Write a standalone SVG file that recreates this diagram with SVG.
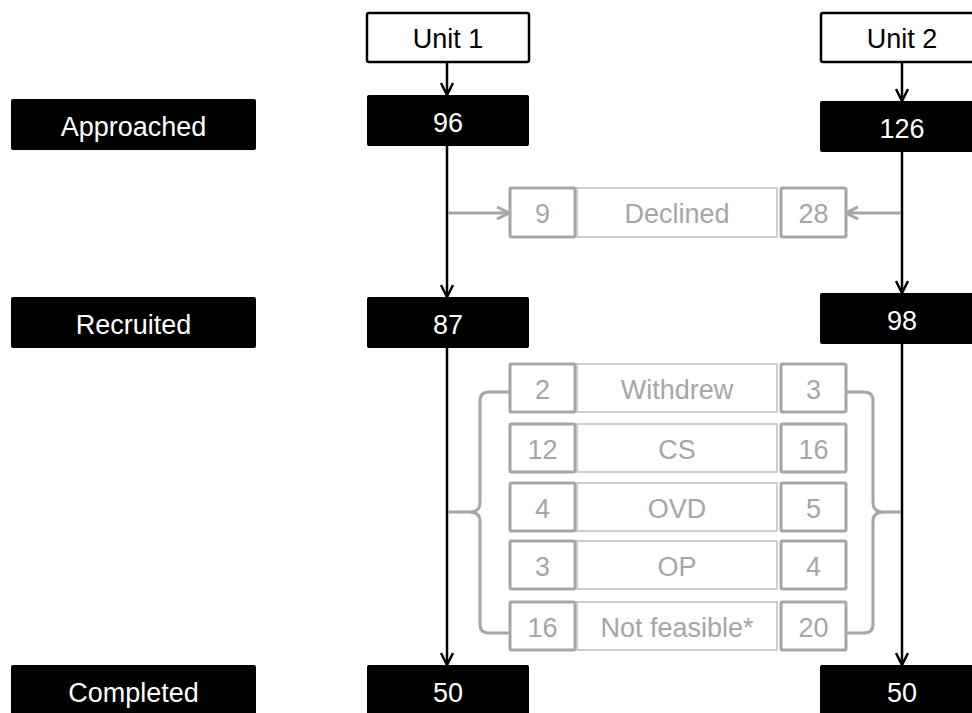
<svg xmlns="http://www.w3.org/2000/svg" width="972" height="713" viewBox="0 0 972 713">
<style>
  text { font-family: "Liberation Sans", Arial, sans-serif; font-size: 27px; text-anchor: middle; }
  .blk { fill: #000; }
  .wt { fill: #fff; }
  .unit { fill: #fff; stroke: #000; stroke-width: 2.5; }
  .num { fill: #fff; stroke: #a6a6a6; stroke-width: 3; }
  .lbl { fill: #fff; stroke: #bfbfbf; stroke-width: 1.5; }
  .gt { fill: #a6a6a6; }
  .kt { fill: #000; }
  .bl { fill: none; stroke: #000; stroke-width: 2.5; }
  .gl { fill: none; stroke: #a6a6a6; stroke-width: 3; }
</style>
<defs>
  <marker id="ah" markerUnits="userSpaceOnUse" viewBox="0 0 14 14" refX="13" refY="7" markerWidth="14" markerHeight="14" orient="auto">
    <path d="M1,1 L13,7 L1,13" fill="none" stroke="#000" stroke-width="2.5"/>
  </marker>
  <marker id="ahg" markerUnits="userSpaceOnUse" viewBox="0 0 14 14" refX="13" refY="7" markerWidth="14" markerHeight="14" orient="auto">
    <path d="M1,1 L13,7 L1,13" fill="none" stroke="#a6a6a6" stroke-width="3"/>
  </marker>
</defs>
<rect width="972" height="713" fill="#fff"/>

<g id="connectors">
  <line class="bl" x1="447" y1="62" x2="447" y2="95" marker-end="url(#ah)"/>
  <line class="bl" x1="447" y1="146" x2="447" y2="297" marker-end="url(#ah)"/>
  <line class="bl" x1="447" y1="348" x2="447" y2="665" marker-end="url(#ah)"/>
  <line class="bl" x1="902" y1="62" x2="902" y2="101" marker-end="url(#ah)"/>
  <line class="bl" x1="902" y1="152" x2="902" y2="293" marker-end="url(#ah)"/>
  <line class="bl" x1="902" y1="344" x2="902" y2="665" marker-end="url(#ah)"/>
  <line class="gl" x1="448" y1="213" x2="509" y2="213" marker-end="url(#ahg)"/>
  <line class="gl" x1="901" y1="213" x2="846" y2="213" marker-end="url(#ahg)"/>
  <path class="gl" d="M510,392 H489 Q480,392 480,401 V503 Q480,512 469,512 H448 M469,512 Q480,512 480,521 V624 Q480,633 489,633 H510"/>
  <path class="gl" d="M846,392 H864 Q873,392 873,401 V503 Q873,512 884,512 H901 M884,512 Q873,512 873,521 V624 Q873,633 864,633 H846"/>
</g>

<g id="unit1"><rect class="unit" x="367" y="13" width="162" height="49" rx="2"/><text class="kt" x="448" y="48">Unit 1</text></g>
<g id="unit2"><rect class="unit" x="821" y="13" width="162" height="49" rx="2"/><text class="kt" x="902" y="48">Unit 2</text></g>

<g id="approached"><rect class="blk" x="11" y="99" width="245" height="51" rx="2"/><text class="wt" x="133.5" y="135.5">Approached</text></g>
<g id="recruited"><rect class="blk" x="11" y="297" width="245" height="51" rx="2"/><text class="wt" x="133.5" y="333.5">Recruited</text></g>
<g id="completed"><rect class="blk" x="11" y="665" width="245" height="60" rx="2"/><text class="wt" x="133.5" y="701.5">Completed</text></g>

<g id="u1-approached"><rect class="blk" x="367" y="95" width="162" height="51" rx="2"/><text class="wt" x="448" y="131.5">96</text></g>
<g id="u1-recruited"><rect class="blk" x="367" y="297" width="162" height="51" rx="2"/><text class="wt" x="448" y="333.5">87</text></g>
<g id="u1-completed"><rect class="blk" x="367" y="665" width="162" height="60" rx="2"/><text class="wt" x="448" y="701.5">50</text></g>

<g id="u2-approached"><rect class="blk" x="820" y="101" width="162" height="51" rx="2"/><text class="wt" x="902" y="137.5">126</text></g>
<g id="u2-recruited"><rect class="blk" x="820" y="293" width="162" height="51" rx="2"/><text class="wt" x="902" y="329.5">98</text></g>
<g id="u2-completed"><rect class="blk" x="820" y="665" width="162" height="60" rx="2"/><text class="wt" x="902" y="701.5">50</text></g>

<g id="declined">
  <rect class="num" x="510" y="188" width="65" height="49" rx="1.5"/><text class="gt" x="542.5" y="223">9</text>
  <rect class="lbl" x="577" y="188" width="200" height="49"/><text class="gt" x="677" y="223">Declined</text>
  <rect class="num" x="781" y="188" width="65" height="49" rx="1.5"/><text class="gt" x="813.5" y="223">28</text>
</g>
<g id="withdrew">
  <rect class="num" x="510" y="364" width="65" height="48" rx="1.5"/><text class="gt" x="542.5" y="398.5">2</text>
  <rect class="lbl" x="577" y="364" width="200" height="48"/><text class="gt" x="677" y="398.5">Withdrew</text>
  <rect class="num" x="781" y="364" width="65" height="48" rx="1.5"/><text class="gt" x="813.5" y="398.5">3</text>
</g>
<g id="cs">
  <rect class="num" x="510" y="424" width="65" height="48" rx="1.5"/><text class="gt" x="542.5" y="458.5">12</text>
  <rect class="lbl" x="577" y="424" width="200" height="48"/><text class="gt" x="677" y="458.5">CS</text>
  <rect class="num" x="781" y="424" width="65" height="48" rx="1.5"/><text class="gt" x="813.5" y="458.5">16</text>
</g>
<g id="ovd">
  <rect class="num" x="510" y="483" width="65" height="48" rx="1.5"/><text class="gt" x="542.5" y="517.5">4</text>
  <rect class="lbl" x="577" y="483" width="200" height="48"/><text class="gt" x="677" y="517.5">OVD</text>
  <rect class="num" x="781" y="483" width="65" height="48" rx="1.5"/><text class="gt" x="813.5" y="517.5">5</text>
</g>
<g id="op">
  <rect class="num" x="510" y="541" width="65" height="48" rx="1.5"/><text class="gt" x="542.5" y="575.5">3</text>
  <rect class="lbl" x="577" y="541" width="200" height="48"/><text class="gt" x="677" y="575.5">OP</text>
  <rect class="num" x="781" y="541" width="65" height="48" rx="1.5"/><text class="gt" x="813.5" y="575.5">4</text>
</g>
<g id="notfeasible">
  <rect class="num" x="510" y="602" width="65" height="48" rx="1.5"/><text class="gt" x="542.5" y="636.5">16</text>
  <rect class="lbl" x="577" y="602" width="200" height="48"/><text class="gt" x="677" y="636.5">Not feasible*</text>
  <rect class="num" x="781" y="602" width="65" height="48" rx="1.5"/><text class="gt" x="813.5" y="636.5">20</text>
</g>
</svg>
